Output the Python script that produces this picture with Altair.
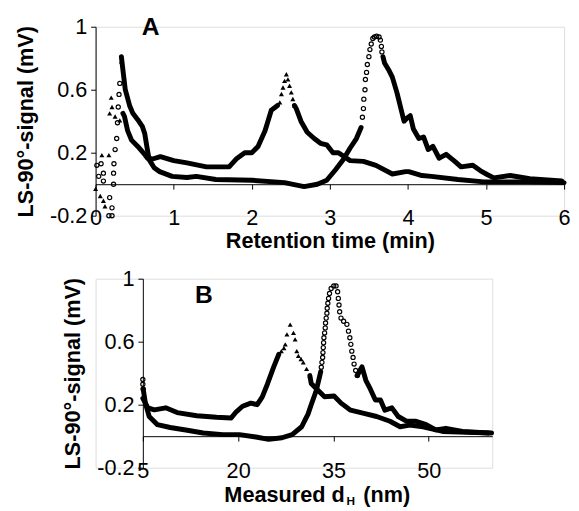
import altair as alt
import pandas as pd

FONT = "Liberation Sans"

# ---------------- Panel A : retention time (min) ----------------
# filled-triangle series (peak ~2.45 min)
A_TRI_PTS_EARLY_X = [0.00, 0.06, 0.10, 0.12, 0.08, 0.17, 0.20, 0.21, 0.18, 0.25, 0.31, 0.33]
A_TRI_PTS_EARLY_Y = [-0.03, -0.075, -0.105, -0.14, 0.185, 0.185, 0.55, 0.49, 0.45, 0.43, 0.405, 0.78]
A_TRI_SEG1_X = [0.35, 0.37, 0.41, 0.46, 0.54, 0.62, 0.665, 0.73, 0.83, 1.00, 1.17, 1.42, 1.71, 1.80,
                1.91, 2.00, 2.08, 2.17, 2.25, 2.33]
A_TRI_SEG1_Y = [0.45, 0.43, 0.34, 0.28, 0.24, 0.195, 0.165, 0.16, 0.175, 0.15, 0.135, 0.11, 0.11, 0.16,
                0.20, 0.20, 0.24, 0.34, 0.47, 0.50]
A_TRI_PTS_PEAK_X = [2.359, 2.38, 2.40, 2.42, 2.443, 2.463, 2.484, 2.506, 2.526, 2.547]
A_TRI_PTS_PEAK_Y = [0.52, 0.573, 0.614, 0.656, 0.698, 0.666, 0.625, 0.583, 0.541, 0.50]
A_TRI_SEG2_X = [2.547, 2.57, 2.63, 2.71, 2.80, 2.88, 2.96, 3.04, 3.11, 3.26, 3.43, 3.59, 3.80, 3.97,
                4.01, 4.18, 4.30, 4.64, 4.97, 5.50, 6.00]
A_TRI_SEG2_Y = [0.50, 0.48, 0.40, 0.33, 0.29, 0.26, 0.25, 0.20, 0.20, 0.15, 0.145, 0.12, 0.065, 0.08,
                0.08, 0.055, 0.05, 0.03, 0.015, 0.015, 0.01]

# open-circle series (peak ~3.6 min)
A_CIRC_PTS_EARLY_X = [0.016, 0.07, 0.10, 0.04, 0.10, 0.18, 0.21, 0.17, 0.21,
                      0.23, 0.23, 0.235, 0.25, 0.27, 0.28, 0.29, 0.30, 0.31]
A_CIRC_PTS_EARLY_Y = [0.12, 0.13, 0.07, 0.05, 0.02, -0.085, -0.15, -0.20, -0.20,
                      0.00, 0.07, 0.13, 0.22, 0.29, 0.39, 0.49, 0.57, 0.64]
A_CIRC_SEG1_X = [0.33, 0.351, 0.38, 0.435, 0.477, 0.54, 0.60, 0.63, 0.656, 0.686, 0.75, 0.82, 0.98,
                 1.17, 1.29, 1.54, 2.00, 2.42, 2.67, 2.84, 2.96, 3.07, 3.17, 3.26, 3.34, 3.40]
A_CIRC_SEG1_Y = [0.81, 0.72, 0.60, 0.50, 0.45, 0.41, 0.365, 0.32, 0.24, 0.156, 0.104, 0.08, 0.05,
                 0.043, 0.05, 0.03, 0.025, 0.01, -0.015, 0.0, 0.025, 0.09, 0.155, 0.23, 0.29, 0.36]
A_CIRC_PTS_PEAK_X = [3.417, 3.43, 3.435, 3.45, 3.455, 3.47, 3.48, 3.50, 3.513, 3.53, 3.55, 3.57,
                     3.60, 3.63, 3.647, 3.66, 3.667]
A_CIRC_PTS_PEAK_Y = [0.425, 0.48, 0.54, 0.60, 0.665, 0.71, 0.76, 0.81, 0.855, 0.89, 0.925, 0.935,
                     0.94, 0.935, 0.915, 0.875, 0.84]
A_CIRC_SEG2_X = [3.68, 3.70, 3.76, 3.80, 3.86, 3.90, 3.95, 3.99, 4.03, 4.07, 4.14, 4.20, 4.26, 4.32,
                 4.40, 4.49, 4.60, 4.68, 4.83, 4.93, 5.02, 5.10, 5.31, 5.56, 5.97]
A_CIRC_SEG2_Y = [0.81, 0.77, 0.72, 0.68, 0.58, 0.50, 0.40, 0.42, 0.435, 0.35, 0.29, 0.30, 0.22, 0.24,
                 0.165, 0.19, 0.145, 0.11, 0.12, 0.085, 0.06, 0.04, 0.055, 0.035, 0.02]

A_X_TICKS = [0, 1, 2, 3, 4, 5, 6]

# ---------------- Panel B : measured dH (nm) ----------------
B_TRI_SEG1_X = [5.0, 5.8, 6.8, 8.6, 10.4, 13.5, 16.6, 18.9, 19.7, 20.7, 22.0, 23.0, 23.8, 24.6,
                25.6, 26.4]
B_TRI_SEG1_Y = [0.24, 0.18, 0.167, 0.18, 0.15, 0.13, 0.12, 0.115, 0.155, 0.19, 0.21, 0.20, 0.25, 0.33,
                0.44, 0.52]
B_TRI_PTS_X = [26.8, 27.2, 27.42, 27.68, 28.19, 28.71, 28.97, 29.23, 29.48, 29.9, 30.25, 30.77, 31.29]
B_TRI_PTS_Y = [0.54, 0.56, 0.583, 0.646, 0.708, 0.656, 0.615, 0.54, 0.51, 0.49, 0.469, 0.427, 0.385]
B_TRI_SEG2_X = [31.29, 31.5, 32.6, 33.6, 35.1, 36.2, 37.7, 39.8, 41.8, 43.9, 45.5, 47.0, 49.1, 52.2,
                59.9]
B_TRI_SEG2_Y = [0.385, 0.335, 0.29, 0.25, 0.255, 0.21, 0.165, 0.145, 0.125, 0.095, 0.06, 0.07, 0.06,
                0.03, 0.02]

B_CIRC_PTS_EARLY_X = [5.0, 5.0, 5.05]
B_CIRC_PTS_EARLY_Y = [0.36, 0.33, 0.30]
B_CIRC_SEG1_X = [5.05, 5.4, 6.0, 7.3, 9.3, 12.0, 14.5, 17.6, 20.2, 22.8, 24.8, 26.9, 28.5, 30.0,
                 30.5, 31.0, 31.5, 32.3, 32.8, 33.0]
B_CIRC_SEG1_Y = [0.30, 0.21, 0.125, 0.073, 0.055, 0.038, 0.02, 0.01, 0.01, -0.005, -0.02, -0.01,
                 0.01, 0.06, 0.10, 0.14, 0.20, 0.29, 0.375, 0.41]
B_CIRC_PTS_X = [33.09, 33.19, 33.30, 33.35, 33.40, 33.45, 33.50, 33.61, 33.71, 33.76, 33.86, 33.97,
                34.02, 34.12, 34.23, 34.38, 34.64, 35.05, 35.41, 35.66, 35.77, 35.88, 35.98, 36.19,
                36.6, 37.12, 37.37, 37.58, 37.74, 37.89, 38.09, 38.25, 38.5, 38.76]
B_CIRC_PTS_Y = [0.4375, 0.469, 0.50, 0.531, 0.5625, 0.594, 0.625, 0.656, 0.6875, 0.719, 0.75, 0.781,
                0.8125, 0.844, 0.875, 0.906, 0.9375, 0.954, 0.954, 0.917, 0.875, 0.833, 0.79, 0.75,
                0.73, 0.71, 0.667, 0.625, 0.583, 0.54, 0.50, 0.458, 0.417, 0.385]
B_CIRC_SEG2_X = [38.76, 39.2, 39.5, 40.1, 40.8, 41.6, 42.4, 43.1, 44.2, 45.2, 46.5, 48.0, 49.6, 51.1,
                 52.7, 55.3, 59.4]
B_CIRC_SEG2_Y = [0.385, 0.42, 0.44, 0.355, 0.30, 0.23, 0.23, 0.165, 0.18, 0.125, 0.095, 0.095, 0.073,
                 0.04, 0.05, 0.03, 0.02]

B_X_TICKS = [5, 20, 35, 50]

Y_TICKS = [-0.2, 0.2, 0.6, 1]
Y_TITLE = "LS-90°-signal (mV)"


def frame(parts):
    rows = []
    for name, kind, xs, ys in parts:
        for i, (x, y) in enumerate(zip(xs, ys)):
            rows.append({"x": x, "y": y, "seg": name, "kind": kind, "i": i})
    return pd.DataFrame(rows)


dfA = frame([
    ("tri_early", "tri", A_TRI_PTS_EARLY_X, A_TRI_PTS_EARLY_Y),
    ("tri1", "line", A_TRI_SEG1_X, A_TRI_SEG1_Y),
    ("tri_peak", "tri", A_TRI_PTS_PEAK_X, A_TRI_PTS_PEAK_Y),
    ("tri2", "line", A_TRI_SEG2_X, A_TRI_SEG2_Y),
    ("circ_early", "circ", A_CIRC_PTS_EARLY_X, A_CIRC_PTS_EARLY_Y),
    ("circ1", "line", A_CIRC_SEG1_X, A_CIRC_SEG1_Y),
    ("circ_peak", "circ", A_CIRC_PTS_PEAK_X, A_CIRC_PTS_PEAK_Y),
    ("circ2", "line", A_CIRC_SEG2_X, A_CIRC_SEG2_Y),
])
dfB = frame([
    ("tri1", "line", B_TRI_SEG1_X, B_TRI_SEG1_Y),
    ("tri_peak", "tri", B_TRI_PTS_X, B_TRI_PTS_Y),
    ("tri2", "line", B_TRI_SEG2_X, B_TRI_SEG2_Y),
    ("circ_early", "circ", B_CIRC_PTS_EARLY_X, B_CIRC_PTS_EARLY_Y),
    ("circ1", "line", B_CIRC_SEG1_X, B_CIRC_SEG1_Y),
    ("circ_peak", "circ", B_CIRC_PTS_X, B_CIRC_PTS_Y),
    ("circ2", "line", B_CIRC_SEG2_X, B_CIRC_SEG2_Y),
])

H = 192
LABEL_SIZE = 22
TITLE_SIZE = 22


def panel(df, xdomain, xticks, width, xrange, yoffset, xtitle, letter, lx, ly, xlabpad):
    xscale = alt.Scale(domain=xdomain, range=xrange, nice=False, zero=False)
    yscale = alt.Scale(domain=[-0.2, 1], nice=False, zero=False)
    xaxis_kw = dict(values=xticks, format="d", offset=-32, tickSize=5, labelPadding=xlabpad,
                    domainColor="black", tickColor="black", labelColor="black",
                    labelFont=FONT, labelFontSize=LABEL_SIZE, grid=False,
                    labelFlush=False, labelOverlap=False)
    if xtitle:
        xaxis = alt.Axis(title=xtitle, titleFont=FONT, titleFontSize=TITLE_SIZE,
                         titleFontWeight="bold", titleColor="black", titlePadding=2, **xaxis_kw)
    else:
        xaxis = alt.Axis(title=None, **xaxis_kw)
    yaxis = alt.Axis(values=Y_TICKS, offset=yoffset, tickSize=5, labelPadding=4,
                     labelExpr="replace(format(datum.value, '.1~f'), '\u2212', '-')",
                     domainColor="black", tickColor="black", labelColor="black",
                     labelFont=FONT, labelFontSize=LABEL_SIZE, grid=False,
                     labelFlush=False, labelOverlap=False,
                     title=Y_TITLE, titleFont=FONT, titleFontSize=TITLE_SIZE,
                     titleFontWeight="bold", titleColor="black", titlePadding=12)
    base = alt.Chart(df)
    X = alt.X("x:Q", scale=xscale, axis=xaxis)
    Y = alt.Y("y:Q", scale=yscale, axis=yaxis)
    lines = base.transform_filter(alt.datum.kind == "line").mark_line(
        color="black", strokeWidth=5, strokeJoin="round", strokeCap="round"
    ).encode(x=X, y=Y, detail="seg:N", order="i:Q")
    circ = base.transform_filter(alt.datum.kind == "circ").mark_point(
        shape="circle", filled=False, color="black", size=18, strokeWidth=1.2, opacity=1
    ).encode(x=X, y=Y)
    tri = base.transform_filter(alt.datum.kind == "tri").mark_point(
        shape="triangle-up", filled=True, color="black", size=26, opacity=1
    ).encode(x=X, y=Y)
    lab = alt.Chart(pd.DataFrame({"t": [letter]})).mark_text(
        font=FONT, fontSize=25, fontWeight="bold", align="center", baseline="alphabetic",
        color="black"
    ).encode(x=alt.value(lx), y=alt.value(ly), text="t:N")
    return [lines, circ, tri, lab], width


layersA, wA = panel(dfA, [0, 6], A_X_TICKS, 476, [0, 476], 0,
                    "Retention time (min)", "A", 56, 8, 19)
chartA = alt.layer(*layersA).properties(width=wA, height=H)

layersB, wB = panel(dfB, [5, 60], B_X_TICKS, 403, [48, 403], -48,
                    None, "B", 110, 25, 20)
# x-axis title of panel B with a subscript H
tB = alt.Chart(pd.DataFrame({"t": ["Measured d"]})).mark_text(
    font=FONT, fontSize=TITLE_SIZE, fontWeight="bold", align="right", baseline="alphabetic",
    color="black").encode(x=alt.value(253), y=alt.value(227), text="t:N")
tH = alt.Chart(pd.DataFrame({"t": ["H"]})).mark_text(
    font=FONT, fontSize=12, fontWeight="bold", align="left", baseline="alphabetic",
    color="black").encode(x=alt.value(255), y=alt.value(230), text="t:N")
tN = alt.Chart(pd.DataFrame({"t": ["(nm)"]})).mark_text(
    font=FONT, fontSize=TITLE_SIZE, fontWeight="bold", align="left", baseline="alphabetic",
    color="black").encode(x=alt.value(272), y=alt.value(227), text="t:N")
chartB = alt.layer(*layersB, tB, tH, tN).properties(width=wB, height=H)

chart = alt.vconcat(chartA, chartB, spacing=15).properties(
    padding={"left": 6, "top": 2, "right": 0, "bottom": 0}
).configure_view(strokeWidth=0).configure(font=FONT)

chart.save("out.html", embed_options={"renderer": "svg", "actions": False})
